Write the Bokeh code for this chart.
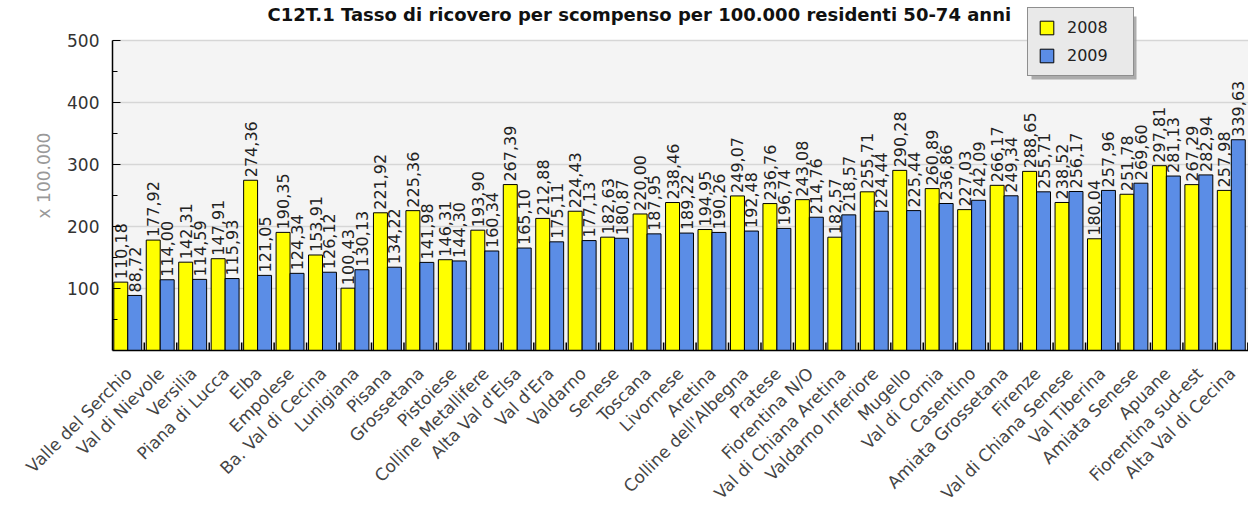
import math
from bokeh.plotting import figure
from bokeh.models import (ColumnDataSource, FactorRange, Range1d, FixedTicker,
                          Legend, LegendItem, Label, BoxAnnotation)
from bokeh.transform import dodge
from bokeh.embed import file_html
from bokeh.resources import INLINE
from bokeh.core.properties import value

categories = [
    "Valle del Serchio", "Val di Nievole", "Versilia", "Piana di Lucca", "Elba",
    "Empolese", "Ba. Val di Cecina", "Lunigiana", "Pisana", "Grossetana",
    "Pistoiese", "Colline Metallifere", "Alta Val d'Elsa", "Val d'Era", "Valdarno",
    "Senese", "Toscana", "Livornese", "Aretina", "Colline dell'Albegna",
    "Pratese", "Fiorentina N/O", "Val di Chiana Aretina", "Valdarno Inferiore", "Mugello",
    "Val di Cornia", "Casentino", "Amiata Grossetana", "Firenze", "Val di Chiana Senese",
    "Val Tiberina", "Amiata Senese", "Apuane", "Fiorentina sud-est", "Alta Val di Cecina",
]
v2008 = [
    110.18, 177.92, 142.31, 147.91, 274.36,
    190.35, 153.91, 100.43, 221.92, 225.36,
    146.31, 193.90, 267.39, 212.88, 224.43,
    182.63, 220.00, 238.46, 194.95, 249.07,
    236.76, 243.08, 182.57, 255.71, 290.28,
    260.89, 227.03, 266.17, 288.65, 238.52,
    180.04, 251.78, 297.81, 267.29, 257.98,
]
v2009 = [
    88.72, 114.00, 114.59, 115.93, 121.05,
    124.34, 126.12, 130.13, 134.22, 141.98,
    144.30, 160.34, 165.10, 175.11, 177.13,
    180.87, 187.95, 189.22, 190.26, 192.48,
    196.74, 214.76, 218.57, 224.44, 225.44,
    236.86, 242.09, 249.34, 255.71, 256.17,
    257.96, 269.60, 281.13, 282.94, 339.63,
]
series_names = ["2008", "2009"]
series_colors = ["#ffff00", "#5b8de6"]
y_ticks = [100, 200, 300, 400, 500]
title_text = "C12T.1 Tasso di ricovero per scompenso per 100.000 residenti 50-74 anni"
y_label = "x 100.000"


def fmt(v):
    return f"{v:.2f}".replace(".", ",")


src = ColumnDataSource(dict(
    cat=categories, y08=v2008, y09=v2009,
    l08=[fmt(v) for v in v2008], l09=[fmt(v) for v in v2009],
    base=[0] * len(categories),
))

FONT = "DejaVu Sans"
Y_MAX = y_ticks[-1]

p = figure(
    x_range=FactorRange(*categories, range_padding=0),
    y_range=Range1d(0, 564),
    width=1248, height=513,
    output_backend="svg", toolbar_location=None,
    min_border_left=112, min_border_right=0, min_border_bottom=159, min_border_top=0,
    background_fill_color="white", border_fill_color="white",
    outline_line_color=None,
)

# plotting area background (0..500 only)
p.add_layout(BoxAnnotation(bottom=0, top=Y_MAX, fill_color="#f4f4f4", fill_alpha=1,
                           line_color=None, level="image"))

BW = 0.43
r1 = p.vbar(x=dodge("cat", -0.245, range=p.x_range), top="y08", width=BW, source=src,
            fill_color=series_colors[0], line_color="black", line_width=1)
r2 = p.vbar(x=dodge("cat", 0.185, range=p.x_range), top="y09", width=BW, source=src,
            fill_color=series_colors[1], line_color="black", line_width=1)

# small inward tick marks at category boundaries
p.ray(x=dodge("cat", 0.48, range=p.x_range), y="base", source=src, length=8,
      length_units="screen", angle=math.pi / 2, line_color="black", line_width=1.5)

p.text(x=dodge("cat", -0.245, range=p.x_range), y="y08", text="l08", source=src,
       angle=math.pi / 2, text_align="left", text_baseline="middle", y_offset=-3,
       text_font=value(FONT), text_font_size="16px", text_color="#222222")
p.text(x=dodge("cat", 0.185, range=p.x_range), y="y09", text="l09", source=src,
       angle=math.pi / 2, text_align="left", text_baseline="middle", y_offset=-3,
       text_font=value(FONT), text_font_size="16px", text_color="#222222")

# title drawn inside the (extended) frame
p.add_layout(Label(x=155, y=336, x_units="screen", y_units="screen", text=title_text,
                   text_font=FONT, text_font_size="18px", text_font_style="bold",
                   text_color="#111111", text_align="left", text_baseline="middle"))

# axes
p.xaxis.major_label_orientation = math.pi / 4
p.xaxis.major_label_text_font = FONT
p.xaxis.major_label_text_font_size = "17px"
p.xaxis.major_label_text_color = "#444444"
p.xaxis.major_label_standoff = 14
p.xaxis.major_tick_line_color = None
p.xaxis.axis_line_color = "black"
p.xaxis.axis_line_width = 1.5

p.yaxis.bounds = (0, Y_MAX)
p.yaxis.ticker = FixedTicker(ticks=y_ticks, minor_ticks=[t - 50 for t in y_ticks])
p.yaxis.major_tick_in = 8
p.yaxis.major_tick_out = 0
p.yaxis.minor_tick_in = 5
p.yaxis.minor_tick_out = 0
p.yaxis.major_tick_line_color = "black"
p.yaxis.minor_tick_line_color = "black"
p.yaxis.axis_line_color = "black"
p.yaxis.axis_line_width = 1.5
p.yaxis.major_label_text_font = FONT
p.yaxis.major_label_text_font_size = "17px"
p.yaxis.major_label_text_color = "#333333"
p.yaxis.major_label_standoff = 13
p.yaxis.axis_label = y_label
p.yaxis.axis_label_text_font = FONT
p.yaxis.axis_label_text_font_size = "17px"
p.yaxis.axis_label_text_font_style = "normal"
p.yaxis.axis_label_text_color = "#999999"
p.yaxis.axis_label_standoff = 10

p.xgrid.grid_line_color = None
p.ygrid.ticker = FixedTicker(ticks=y_ticks)
p.ygrid.grid_line_color = "#d6d6d6"
p.ygrid.grid_line_width = 1.5

# legend drop shadow
p.add_layout(BoxAnnotation(left=1031, right=1136, top=16, bottom=79,
                           left_units="canvas", right_units="canvas",
                           top_units="canvas", bottom_units="canvas",
                           fill_color="#9a9a9a", fill_alpha=0.8, line_color=None,
                           level="annotation"))

legend = Legend(
    items=[LegendItem(label=series_names[0], renderers=[r1]),
           LegendItem(label=series_names[1], renderers=[r2])],
    location=(915, 274),
    glyph_width=17, glyph_height=17, label_height=17, label_width=56,
    label_standoff=12, padding=10, spacing=9, margin=0,
    label_text_font=FONT, label_text_font_size="16px", label_text_color="#222222",
    border_line_color="#333333", border_line_width=1.5,
    background_fill_color="#e9e9e9", background_fill_alpha=1,
)
p.add_layout(legend)

open("out.html", "w").write(file_html(p, INLINE))
